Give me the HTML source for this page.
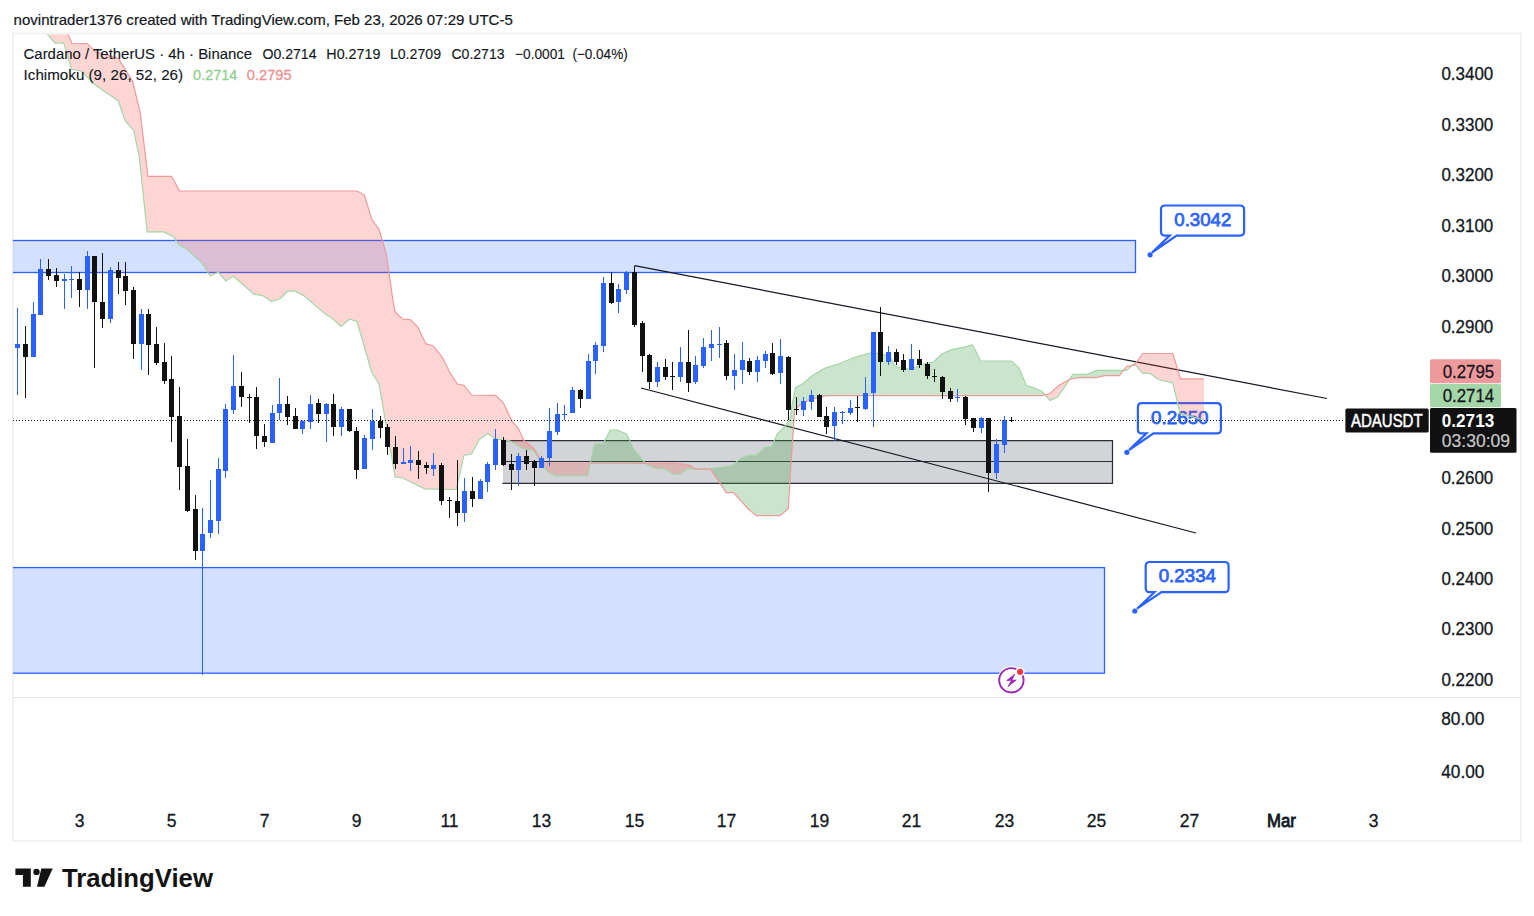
<!DOCTYPE html><html><head><meta charset="utf-8"><title>ADAUSDT chart</title>
<style>html,body{margin:0;padding:0;background:#fff;width:1534px;height:916px;overflow:hidden}svg{position:absolute;left:0;top:0;display:block}text{font-family:"Liberation Sans",sans-serif}</style></head><body>
<svg width="1534" height="916" viewBox="0 0 1534 916">
<defs><clipPath id="main"><rect x="13" y="34.5" width="1417" height="662.5"/></clipPath><clipPath id="cgreen"><polygon points="-138,20 62,20 68.2,34.4 71.9,43.5 87.2,43.5 95.5,51.8 118.4,58.4 132.6,81.3 140.3,113 147.9,176.3 171.5,176.3 179.6,191 357,191 364.3,194.8 371.7,219 379,229.3 386.4,254.3 392.9,300 395.1,312 402.8,319.2 410.4,319.7 418,327.3 425.7,343.7 433.3,345.9 442,356.8 449.7,372 457.3,384 463.9,385.2 471.5,395 495.5,395.4 503.2,402.6 512,421.2 518.5,428.8 524,440.8 533.8,448.5 540.3,459.4 543.7,463 675,463.4 687.8,464.5 695.1,469.1 710.7,469.1 726.2,492.6 733.5,492.6 748.1,508.7 756.3,515.6 780,515.6 788.2,508.7 790,479.5 794.6,410.2 799.2,405.6 810.1,399.2 820,397.4 826,395.6 1041.7,395.6 1050.2,393.5 1058.7,385.4 1069.1,379.5 1079.5,377.6 1096.5,377.6 1104.3,375.6 1119.3,375.6 1126.5,366.5 1134.3,365.2 1142.8,353.5 1172.8,353.5 1180.6,378.9 1204,378.9 1404,378.9 1404,-500 -138,-500"/></clipPath><clipPath id="cred"><polygon points="-138,20 62,20 68.2,34.4 71.9,43.5 87.2,43.5 95.5,51.8 118.4,58.4 132.6,81.3 140.3,113 147.9,176.3 171.5,176.3 179.6,191 357,191 364.3,194.8 371.7,219 379,229.3 386.4,254.3 392.9,300 395.1,312 402.8,319.2 410.4,319.7 418,327.3 425.7,343.7 433.3,345.9 442,356.8 449.7,372 457.3,384 463.9,385.2 471.5,395 495.5,395.4 503.2,402.6 512,421.2 518.5,428.8 524,440.8 533.8,448.5 540.3,459.4 543.7,463 675,463.4 687.8,464.5 695.1,469.1 710.7,469.1 726.2,492.6 733.5,492.6 748.1,508.7 756.3,515.6 780,515.6 788.2,508.7 790,479.5 794.6,410.2 799.2,405.6 810.1,399.2 820,397.4 826,395.6 1041.7,395.6 1050.2,393.5 1058.7,385.4 1069.1,379.5 1079.5,377.6 1096.5,377.6 1104.3,375.6 1119.3,375.6 1126.5,366.5 1134.3,365.2 1142.8,353.5 1172.8,353.5 1180.6,378.9 1204,378.9 1404,378.9 1404,1500 -138,1500"/></clipPath></defs>
<rect x="0" y="0" width="1534" height="916" fill="#ffffff"/>
<text x="13.6" y="25" font-size="15" fill="#131722" stroke="#131722" stroke-width="0.2" textLength="499.2" lengthAdjust="spacingAndGlyphs">novintrader1376 created with TradingView.com, Feb 23, 2026 07:29 UTC-5</text>
<rect x="12.75" y="33.5" width="1508" height="807.5" fill="none" stroke="#efefef" stroke-width="1.6"/>
<line x1="13" y1="697.5" x2="1520" y2="697.5" stroke="#e0e3eb" stroke-width="1"/>
<g clip-path="url(#main)">
<rect x="8" y="240.5" width="1127.5" height="32" fill="#2962ff" fill-opacity="0.2" stroke="#2962ff" stroke-width="1.3"/>
<rect x="8" y="567.6" width="1096.5" height="105.6" fill="#2962ff" fill-opacity="0.2" stroke="#2962ff" stroke-width="1.3"/>
<rect x="503" y="440.6" width="609.5" height="42.8" fill="#787b86" fill-opacity="0.33"/>
<path d="M502.5,440.6 H1112.5 V483.4 H502.5 M502.5,461.5 H1112.5" fill="none" stroke="#2a2e39" stroke-width="1.2"/>
<line x1="634.5" y1="265.6" x2="1327" y2="398.5" stroke="#131722" stroke-width="1.2"/>
<line x1="641" y1="388" x2="1196" y2="533" stroke="#131722" stroke-width="1.2"/>
<path d="M1165,205.5 L1240.1,205.5 Q1244.1,205.5 1244.1,209.5 L1244.1,231.6 Q1244.1,235.6 1240.1,235.6 L1176.6,235.6 L1152,252.5 L1169.7,235.6 L1165,235.6 Q1161,235.6 1161,231.6 L1161,209.5 Q1161,205.5 1165,205.5 Z" fill="#ffffff" stroke="#2962ff" stroke-width="2.2" stroke-linejoin="miter"/>
<circle cx="1150.1" cy="254.8" r="2.6" fill="#2962ff"/>
<text x="1174.3" y="226" font-size="18.6" fill="#2962ff" stroke="#2962ff" stroke-width="0.75" textLength="57" lengthAdjust="spacingAndGlyphs">0.3042</text>
<path d="M1141.9,403.2 L1216.9,403.2 Q1220.9,403.2 1220.9,407.2 L1220.9,429.4 Q1220.9,433.4 1216.9,433.4 L1153.5,433.4 L1129,450 L1146.5,433.4 L1141.9,433.4 Q1137.9,433.4 1137.9,429.4 L1137.9,407.2 Q1137.9,403.2 1141.9,403.2 Z" fill="#ffffff" stroke="#2962ff" stroke-width="2.2" stroke-linejoin="miter"/>
<circle cx="1126.9" cy="452.3" r="2.6" fill="#2962ff"/>
<text x="1151" y="424" font-size="18.6" fill="#2962ff" stroke="#2962ff" stroke-width="0.75" textLength="57.6" lengthAdjust="spacingAndGlyphs">0.2650</text>
<path d="M1149.7,562 L1224.6,562 Q1228.6,562 1228.6,566 L1228.6,588.2 Q1228.6,592.2 1224.6,592.2 L1161.5,592.2 L1137,608.7 L1154.5,592.2 L1149.7,592.2 Q1145.7,592.2 1145.7,588.2 L1145.7,566 Q1145.7,562 1149.7,562 Z" fill="#ffffff" stroke="#2962ff" stroke-width="2.2" stroke-linejoin="miter"/>
<circle cx="1134.8" cy="611" r="2.6" fill="#2962ff"/>
<text x="1158.7" y="581.8" font-size="18.6" fill="#2962ff" stroke="#2962ff" stroke-width="0.75" textLength="57.3" lengthAdjust="spacingAndGlyphs">0.2334</text>
<polygon points="40,20 47.5,34.4 55.1,43.1 63.8,43.1 71.5,69.3 82.4,71.5 93.3,83.5 118.4,101 125,120.6 133.7,130.4 139.2,156.6 147.2,231.9 163.9,231.9 173.4,236.8 179.1,245 186.5,249 202,263 210.2,276 218.4,272 225.8,281 233.1,276 250,290.8 253.8,294.1 262.6,295.6 271.5,301.5 280.3,298.5 287.7,291.2 295,291.2 303.9,295.6 315.7,305.9 324.5,313.3 333.4,319.2 340.8,326.5 349.6,319.2 357,321.5 371.7,372.2 379,384 395.1,476.9 402.8,478 424.6,488.9 456.2,489.5 463.9,455.5 471.5,454 479.2,439.7 487.9,433.2 494.5,438.6 509.7,440.8 522.8,448.5 533.8,450.7 544.7,468.1 549.1,473.1 556.4,475.9 587.8,475.9 590.2,463 594.8,443.9 603,443.9 610.3,430.2 617.6,430.2 626.7,434.2 634,449.4 645,463 648.6,465.8 656.8,468.6 664.1,468.6 673.2,474 680.5,474.4 687.8,468.6 695.1,469.1 711.6,468.6 731.6,465.8 740.8,458.5 749,455.2 756.3,455.2 765.4,447.2 771.8,446.3 777.3,433.9 784.6,426.6 790,419.3 791.9,406.5 795.5,387.3 802.8,383.8 812,375.7 825.6,367.8 836.6,364.7 856.7,356.5 871.3,352.9 882.2,353.8 890.4,357.4 895,366 901.4,368.4 911.4,369.3 924.2,363.8 933.3,362.3 941.5,354.3 951.6,349.6 963.4,347.4 972.5,344.6 980.8,361 1011.8,361 1019.1,368.4 1026.4,385.7 1032.8,387.2 1041.7,391.3 1050.2,400.4 1058,396.5 1073,374.3 1087.4,374.3 1096.5,370.4 1126.5,370.4 1134.3,363.9 1135.6,365.2 1142.8,373.4 1150,373.4 1158.4,379.5 1172.8,382.8 1180,413.4 1204,420 1204,378.9 1180.6,378.9 1172.8,353.5 1142.8,353.5 1134.3,365.2 1126.5,366.5 1119.3,375.6 1104.3,375.6 1096.5,377.6 1079.5,377.6 1069.1,379.5 1058.7,385.4 1050.2,393.5 1041.7,395.6 826,395.6 820,397.4 810.1,399.2 799.2,405.6 794.6,410.2 790,479.5 788.2,508.7 780,515.6 756.3,515.6 748.1,508.7 733.5,492.6 726.2,492.6 710.7,469.1 695.1,469.1 687.8,464.5 675,463.4 543.7,463 540.3,459.4 533.8,448.5 524,440.8 518.5,428.8 512,421.2 503.2,402.6 495.5,395.4 471.5,395 463.9,385.2 457.3,384 449.7,372 442,356.8 433.3,345.9 425.7,343.7 418,327.3 410.4,319.7 402.8,319.2 395.1,312 392.9,300 386.4,254.3 379,229.3 371.7,219 364.3,194.8 357,191 179.6,191 171.5,176.3 147.9,176.3 140.3,113 132.6,81.3 118.4,58.4 95.5,51.8 87.2,43.5 71.9,43.5 68.2,34.4 62,20" fill="#43a047" fill-opacity="0.28" clip-path="url(#cgreen)"/>
<polygon points="40,20 47.5,34.4 55.1,43.1 63.8,43.1 71.5,69.3 82.4,71.5 93.3,83.5 118.4,101 125,120.6 133.7,130.4 139.2,156.6 147.2,231.9 163.9,231.9 173.4,236.8 179.1,245 186.5,249 202,263 210.2,276 218.4,272 225.8,281 233.1,276 250,290.8 253.8,294.1 262.6,295.6 271.5,301.5 280.3,298.5 287.7,291.2 295,291.2 303.9,295.6 315.7,305.9 324.5,313.3 333.4,319.2 340.8,326.5 349.6,319.2 357,321.5 371.7,372.2 379,384 395.1,476.9 402.8,478 424.6,488.9 456.2,489.5 463.9,455.5 471.5,454 479.2,439.7 487.9,433.2 494.5,438.6 509.7,440.8 522.8,448.5 533.8,450.7 544.7,468.1 549.1,473.1 556.4,475.9 587.8,475.9 590.2,463 594.8,443.9 603,443.9 610.3,430.2 617.6,430.2 626.7,434.2 634,449.4 645,463 648.6,465.8 656.8,468.6 664.1,468.6 673.2,474 680.5,474.4 687.8,468.6 695.1,469.1 711.6,468.6 731.6,465.8 740.8,458.5 749,455.2 756.3,455.2 765.4,447.2 771.8,446.3 777.3,433.9 784.6,426.6 790,419.3 791.9,406.5 795.5,387.3 802.8,383.8 812,375.7 825.6,367.8 836.6,364.7 856.7,356.5 871.3,352.9 882.2,353.8 890.4,357.4 895,366 901.4,368.4 911.4,369.3 924.2,363.8 933.3,362.3 941.5,354.3 951.6,349.6 963.4,347.4 972.5,344.6 980.8,361 1011.8,361 1019.1,368.4 1026.4,385.7 1032.8,387.2 1041.7,391.3 1050.2,400.4 1058,396.5 1073,374.3 1087.4,374.3 1096.5,370.4 1126.5,370.4 1134.3,363.9 1135.6,365.2 1142.8,373.4 1150,373.4 1158.4,379.5 1172.8,382.8 1180,413.4 1204,420 1204,378.9 1180.6,378.9 1172.8,353.5 1142.8,353.5 1134.3,365.2 1126.5,366.5 1119.3,375.6 1104.3,375.6 1096.5,377.6 1079.5,377.6 1069.1,379.5 1058.7,385.4 1050.2,393.5 1041.7,395.6 826,395.6 820,397.4 810.1,399.2 799.2,405.6 794.6,410.2 790,479.5 788.2,508.7 780,515.6 756.3,515.6 748.1,508.7 733.5,492.6 726.2,492.6 710.7,469.1 695.1,469.1 687.8,464.5 675,463.4 543.7,463 540.3,459.4 533.8,448.5 524,440.8 518.5,428.8 512,421.2 503.2,402.6 495.5,395.4 471.5,395 463.9,385.2 457.3,384 449.7,372 442,356.8 433.3,345.9 425.7,343.7 418,327.3 410.4,319.7 402.8,319.2 395.1,312 392.9,300 386.4,254.3 379,229.3 371.7,219 364.3,194.8 357,191 179.6,191 171.5,176.3 147.9,176.3 140.3,113 132.6,81.3 118.4,58.4 95.5,51.8 87.2,43.5 71.9,43.5 68.2,34.4 62,20" fill="#f44336" fill-opacity="0.22" clip-path="url(#cred)"/>
<polyline points="40,20 47.5,34.4 55.1,43.1 63.8,43.1 71.5,69.3 82.4,71.5 93.3,83.5 118.4,101 125,120.6 133.7,130.4 139.2,156.6 147.2,231.9 163.9,231.9 173.4,236.8 179.1,245 186.5,249 202,263 210.2,276 218.4,272 225.8,281 233.1,276 250,290.8 253.8,294.1 262.6,295.6 271.5,301.5 280.3,298.5 287.7,291.2 295,291.2 303.9,295.6 315.7,305.9 324.5,313.3 333.4,319.2 340.8,326.5 349.6,319.2 357,321.5 371.7,372.2 379,384 395.1,476.9 402.8,478 424.6,488.9 456.2,489.5 463.9,455.5 471.5,454 479.2,439.7 487.9,433.2 494.5,438.6 509.7,440.8 522.8,448.5 533.8,450.7 544.7,468.1 549.1,473.1 556.4,475.9 587.8,475.9 590.2,463 594.8,443.9 603,443.9 610.3,430.2 617.6,430.2 626.7,434.2 634,449.4 645,463 648.6,465.8 656.8,468.6 664.1,468.6 673.2,474 680.5,474.4 687.8,468.6 695.1,469.1 711.6,468.6 731.6,465.8 740.8,458.5 749,455.2 756.3,455.2 765.4,447.2 771.8,446.3 777.3,433.9 784.6,426.6 790,419.3 791.9,406.5 795.5,387.3 802.8,383.8 812,375.7 825.6,367.8 836.6,364.7 856.7,356.5 871.3,352.9 882.2,353.8 890.4,357.4 895,366 901.4,368.4 911.4,369.3 924.2,363.8 933.3,362.3 941.5,354.3 951.6,349.6 963.4,347.4 972.5,344.6 980.8,361 1011.8,361 1019.1,368.4 1026.4,385.7 1032.8,387.2 1041.7,391.3 1050.2,400.4 1058,396.5 1073,374.3 1087.4,374.3 1096.5,370.4 1126.5,370.4 1134.3,363.9 1135.6,365.2 1142.8,373.4 1150,373.4 1158.4,379.5 1172.8,382.8 1180,413.4 1204,420" fill="none" stroke="#a5d6a7" stroke-width="1.2"/>
<polyline points="62,20 68.2,34.4 71.9,43.5 87.2,43.5 95.5,51.8 118.4,58.4 132.6,81.3 140.3,113 147.9,176.3 171.5,176.3 179.6,191 357,191 364.3,194.8 371.7,219 379,229.3 386.4,254.3 392.9,300 395.1,312 402.8,319.2 410.4,319.7 418,327.3 425.7,343.7 433.3,345.9 442,356.8 449.7,372 457.3,384 463.9,385.2 471.5,395 495.5,395.4 503.2,402.6 512,421.2 518.5,428.8 524,440.8 533.8,448.5 540.3,459.4 543.7,463 675,463.4 687.8,464.5 695.1,469.1 710.7,469.1 726.2,492.6 733.5,492.6 748.1,508.7 756.3,515.6 780,515.6 788.2,508.7 790,479.5 794.6,410.2 799.2,405.6 810.1,399.2 820,397.4 826,395.6 1041.7,395.6 1050.2,393.5 1058.7,385.4 1069.1,379.5 1079.5,377.6 1096.5,377.6 1104.3,375.6 1119.3,375.6 1126.5,366.5 1134.3,365.2 1142.8,353.5 1172.8,353.5 1180.6,378.9 1204,378.9" fill="none" stroke="#ef9a9a" stroke-width="1.2"/>
<rect x="17" y="308" width="1" height="87" fill="#2962ff"/>
<rect x="15" y="344" width="5" height="4" fill="#2962ff"/>
<rect x="25" y="326" width="1" height="72" fill="#111111"/>
<rect x="23" y="344" width="5" height="13" fill="#111111"/>
<rect x="33" y="302" width="1" height="55" fill="#2962ff"/>
<rect x="31" y="314" width="5" height="43" fill="#2962ff"/>
<rect x="40" y="259" width="1" height="56" fill="#2962ff"/>
<rect x="38" y="269" width="5" height="46" fill="#2962ff"/>
<rect x="48" y="259" width="1" height="21" fill="#111111"/>
<rect x="46" y="269" width="5" height="7" fill="#111111"/>
<rect x="56" y="268" width="1" height="19" fill="#111111"/>
<rect x="54" y="275" width="5" height="6" fill="#111111"/>
<rect x="64" y="274" width="1" height="35" fill="#2962ff"/>
<rect x="62" y="279" width="5" height="2" fill="#2962ff"/>
<rect x="71" y="266" width="1" height="32" fill="#2962ff"/>
<rect x="69" y="279" width="5" height="1" fill="#2962ff"/>
<rect x="79" y="272" width="1" height="35" fill="#111111"/>
<rect x="77" y="279" width="5" height="11" fill="#111111"/>
<rect x="87" y="251" width="1" height="58" fill="#2962ff"/>
<rect x="85" y="256" width="5" height="34" fill="#2962ff"/>
<rect x="94" y="256" width="1" height="112" fill="#111111"/>
<rect x="92" y="256" width="5" height="46" fill="#111111"/>
<rect x="102" y="253" width="1" height="75" fill="#111111"/>
<rect x="100" y="302" width="5" height="17" fill="#111111"/>
<rect x="110" y="267" width="1" height="56" fill="#2962ff"/>
<rect x="108" y="270" width="5" height="49" fill="#2962ff"/>
<rect x="118" y="262" width="1" height="32" fill="#111111"/>
<rect x="116" y="270" width="5" height="8" fill="#111111"/>
<rect x="125" y="262" width="1" height="43" fill="#111111"/>
<rect x="123" y="276" width="5" height="15" fill="#111111"/>
<rect x="133" y="287" width="1" height="72" fill="#111111"/>
<rect x="131" y="290" width="5" height="54" fill="#111111"/>
<rect x="141" y="309" width="1" height="61" fill="#2962ff"/>
<rect x="139" y="314" width="5" height="30" fill="#2962ff"/>
<rect x="148" y="309" width="1" height="66" fill="#111111"/>
<rect x="146" y="314" width="5" height="31" fill="#111111"/>
<rect x="156" y="327" width="1" height="38" fill="#111111"/>
<rect x="154" y="344" width="5" height="19" fill="#111111"/>
<rect x="164" y="343" width="1" height="41" fill="#111111"/>
<rect x="162" y="362" width="5" height="19" fill="#111111"/>
<rect x="171" y="356" width="1" height="86" fill="#111111"/>
<rect x="169" y="379" width="5" height="38" fill="#111111"/>
<rect x="179" y="387" width="1" height="103" fill="#111111"/>
<rect x="177" y="416" width="5" height="51" fill="#111111"/>
<rect x="187" y="439" width="1" height="73" fill="#111111"/>
<rect x="185" y="466" width="5" height="45" fill="#111111"/>
<rect x="195" y="495" width="1" height="65" fill="#111111"/>
<rect x="193" y="509" width="5" height="42" fill="#111111"/>
<rect x="202" y="508" width="1" height="167" fill="#2962ff"/>
<rect x="200" y="534" width="5" height="17" fill="#2962ff"/>
<rect x="210" y="480" width="1" height="58" fill="#2962ff"/>
<rect x="208" y="520" width="5" height="13" fill="#2962ff"/>
<rect x="218" y="458" width="1" height="76" fill="#2962ff"/>
<rect x="216" y="469" width="5" height="52" fill="#2962ff"/>
<rect x="225" y="404" width="1" height="74" fill="#2962ff"/>
<rect x="223" y="409" width="5" height="62" fill="#2962ff"/>
<rect x="233" y="355" width="1" height="59" fill="#2962ff"/>
<rect x="231" y="386" width="5" height="24" fill="#2962ff"/>
<rect x="241" y="372" width="1" height="35" fill="#111111"/>
<rect x="239" y="386" width="5" height="11" fill="#111111"/>
<rect x="249" y="394" width="1" height="29" fill="#111111"/>
<rect x="247" y="397" width="5" height="1" fill="#111111"/>
<rect x="256" y="387" width="1" height="62" fill="#111111"/>
<rect x="254" y="397" width="5" height="39" fill="#111111"/>
<rect x="264" y="424" width="1" height="23" fill="#111111"/>
<rect x="262" y="436" width="5" height="6" fill="#111111"/>
<rect x="272" y="405" width="1" height="38" fill="#2962ff"/>
<rect x="270" y="413" width="5" height="30" fill="#2962ff"/>
<rect x="279" y="378" width="1" height="42" fill="#2962ff"/>
<rect x="277" y="404" width="5" height="9" fill="#2962ff"/>
<rect x="287" y="396" width="1" height="29" fill="#111111"/>
<rect x="285" y="404" width="5" height="13" fill="#111111"/>
<rect x="295" y="408" width="1" height="21" fill="#111111"/>
<rect x="293" y="416" width="5" height="13" fill="#111111"/>
<rect x="302" y="420" width="1" height="14" fill="#2962ff"/>
<rect x="300" y="421" width="5" height="8" fill="#2962ff"/>
<rect x="310" y="395" width="1" height="34" fill="#2962ff"/>
<rect x="308" y="404" width="5" height="18" fill="#2962ff"/>
<rect x="318" y="399" width="1" height="24" fill="#111111"/>
<rect x="316" y="403" width="5" height="11" fill="#111111"/>
<rect x="326" y="403" width="1" height="39" fill="#2962ff"/>
<rect x="324" y="404" width="5" height="10" fill="#2962ff"/>
<rect x="333" y="394" width="1" height="42" fill="#111111"/>
<rect x="331" y="404" width="5" height="23" fill="#111111"/>
<rect x="341" y="407" width="1" height="29" fill="#2962ff"/>
<rect x="339" y="409" width="5" height="18" fill="#2962ff"/>
<rect x="349" y="409" width="1" height="23" fill="#111111"/>
<rect x="347" y="409" width="5" height="22" fill="#111111"/>
<rect x="356" y="427" width="1" height="52" fill="#111111"/>
<rect x="354" y="431" width="5" height="39" fill="#111111"/>
<rect x="364" y="435" width="1" height="34" fill="#2962ff"/>
<rect x="362" y="438" width="5" height="31" fill="#2962ff"/>
<rect x="372" y="409" width="1" height="41" fill="#2962ff"/>
<rect x="370" y="421" width="5" height="18" fill="#2962ff"/>
<rect x="380" y="416" width="1" height="22" fill="#111111"/>
<rect x="378" y="421" width="5" height="7" fill="#111111"/>
<rect x="387" y="424" width="1" height="31" fill="#111111"/>
<rect x="385" y="427" width="5" height="20" fill="#111111"/>
<rect x="395" y="436" width="1" height="33" fill="#111111"/>
<rect x="393" y="447" width="5" height="17" fill="#111111"/>
<rect x="403" y="448" width="1" height="16" fill="#2962ff"/>
<rect x="401" y="462" width="5" height="2" fill="#2962ff"/>
<rect x="410" y="446" width="1" height="25" fill="#2962ff"/>
<rect x="408" y="460" width="5" height="3" fill="#2962ff"/>
<rect x="418" y="451" width="1" height="28" fill="#111111"/>
<rect x="416" y="460" width="5" height="5" fill="#111111"/>
<rect x="426" y="462" width="1" height="12" fill="#111111"/>
<rect x="424" y="465" width="5" height="3" fill="#111111"/>
<rect x="433" y="453" width="1" height="23" fill="#2962ff"/>
<rect x="431" y="465" width="5" height="4" fill="#2962ff"/>
<rect x="441" y="463" width="1" height="42" fill="#111111"/>
<rect x="439" y="465" width="5" height="36" fill="#111111"/>
<rect x="449" y="497" width="1" height="21" fill="#111111"/>
<rect x="447" y="500" width="5" height="1" fill="#111111"/>
<rect x="457" y="460" width="1" height="66" fill="#111111"/>
<rect x="455" y="501" width="5" height="12" fill="#111111"/>
<rect x="464" y="478" width="1" height="44" fill="#2962ff"/>
<rect x="462" y="491" width="5" height="22" fill="#2962ff"/>
<rect x="472" y="477" width="1" height="30" fill="#111111"/>
<rect x="470" y="491" width="5" height="8" fill="#111111"/>
<rect x="480" y="479" width="1" height="20" fill="#2962ff"/>
<rect x="478" y="481" width="5" height="18" fill="#2962ff"/>
<rect x="487" y="462" width="1" height="30" fill="#2962ff"/>
<rect x="485" y="464" width="5" height="18" fill="#2962ff"/>
<rect x="495" y="429" width="1" height="41" fill="#2962ff"/>
<rect x="493" y="439" width="5" height="26" fill="#2962ff"/>
<rect x="503" y="437" width="1" height="29" fill="#111111"/>
<rect x="501" y="440" width="5" height="25" fill="#111111"/>
<rect x="511" y="454" width="1" height="36" fill="#111111"/>
<rect x="509" y="464" width="5" height="6" fill="#111111"/>
<rect x="518" y="453" width="1" height="33" fill="#2962ff"/>
<rect x="516" y="456" width="5" height="14" fill="#2962ff"/>
<rect x="526" y="450" width="1" height="20" fill="#111111"/>
<rect x="524" y="456" width="5" height="8" fill="#111111"/>
<rect x="534" y="460" width="1" height="26" fill="#111111"/>
<rect x="532" y="461" width="5" height="7" fill="#111111"/>
<rect x="541" y="456" width="1" height="12" fill="#2962ff"/>
<rect x="539" y="458" width="5" height="10" fill="#2962ff"/>
<rect x="549" y="408" width="1" height="58" fill="#2962ff"/>
<rect x="547" y="431" width="5" height="27" fill="#2962ff"/>
<rect x="557" y="403" width="1" height="32" fill="#2962ff"/>
<rect x="555" y="414" width="5" height="18" fill="#2962ff"/>
<rect x="564" y="405" width="1" height="15" fill="#2962ff"/>
<rect x="562" y="414" width="5" height="1" fill="#2962ff"/>
<rect x="572" y="387" width="1" height="26" fill="#2962ff"/>
<rect x="570" y="390" width="5" height="23" fill="#2962ff"/>
<rect x="580" y="389" width="1" height="19" fill="#111111"/>
<rect x="578" y="390" width="5" height="9" fill="#111111"/>
<rect x="588" y="354" width="1" height="45" fill="#2962ff"/>
<rect x="586" y="361" width="5" height="38" fill="#2962ff"/>
<rect x="595" y="342" width="1" height="32" fill="#2962ff"/>
<rect x="593" y="345" width="5" height="16" fill="#2962ff"/>
<rect x="603" y="277" width="1" height="75" fill="#2962ff"/>
<rect x="601" y="283" width="5" height="63" fill="#2962ff"/>
<rect x="611" y="272" width="1" height="32" fill="#111111"/>
<rect x="609" y="283" width="5" height="20" fill="#111111"/>
<rect x="618" y="284" width="1" height="29" fill="#2962ff"/>
<rect x="616" y="289" width="5" height="13" fill="#2962ff"/>
<rect x="626" y="271" width="1" height="23" fill="#2962ff"/>
<rect x="624" y="272" width="5" height="18" fill="#2962ff"/>
<rect x="634" y="266" width="1" height="61" fill="#111111"/>
<rect x="632" y="272" width="5" height="53" fill="#111111"/>
<rect x="642" y="321" width="1" height="51" fill="#111111"/>
<rect x="640" y="323" width="5" height="33" fill="#111111"/>
<rect x="649" y="354" width="1" height="35" fill="#111111"/>
<rect x="647" y="355" width="5" height="27" fill="#111111"/>
<rect x="657" y="362" width="1" height="25" fill="#2962ff"/>
<rect x="655" y="367" width="5" height="15" fill="#2962ff"/>
<rect x="665" y="359" width="1" height="21" fill="#111111"/>
<rect x="663" y="367" width="5" height="10" fill="#111111"/>
<rect x="672" y="362" width="1" height="28" fill="#111111"/>
<rect x="670" y="376" width="5" height="1" fill="#111111"/>
<rect x="680" y="347" width="1" height="35" fill="#2962ff"/>
<rect x="678" y="362" width="5" height="15" fill="#2962ff"/>
<rect x="688" y="330" width="1" height="62" fill="#111111"/>
<rect x="686" y="362" width="5" height="21" fill="#111111"/>
<rect x="695" y="356" width="1" height="28" fill="#2962ff"/>
<rect x="693" y="365" width="5" height="17" fill="#2962ff"/>
<rect x="703" y="338" width="1" height="30" fill="#2962ff"/>
<rect x="701" y="347" width="5" height="19" fill="#2962ff"/>
<rect x="711" y="330" width="1" height="31" fill="#2962ff"/>
<rect x="709" y="344" width="5" height="4" fill="#2962ff"/>
<rect x="719" y="327" width="1" height="31" fill="#2962ff"/>
<rect x="717" y="344" width="5" height="1" fill="#2962ff"/>
<rect x="726" y="340" width="1" height="40" fill="#111111"/>
<rect x="724" y="343" width="5" height="33" fill="#111111"/>
<rect x="734" y="354" width="1" height="36" fill="#2962ff"/>
<rect x="732" y="370" width="5" height="6" fill="#2962ff"/>
<rect x="742" y="342" width="1" height="42" fill="#2962ff"/>
<rect x="740" y="360" width="5" height="10" fill="#2962ff"/>
<rect x="749" y="358" width="1" height="17" fill="#111111"/>
<rect x="747" y="361" width="5" height="11" fill="#111111"/>
<rect x="757" y="356" width="1" height="26" fill="#2962ff"/>
<rect x="755" y="360" width="5" height="12" fill="#2962ff"/>
<rect x="765" y="351" width="1" height="17" fill="#2962ff"/>
<rect x="763" y="354" width="5" height="7" fill="#2962ff"/>
<rect x="772" y="343" width="1" height="32" fill="#111111"/>
<rect x="770" y="353" width="5" height="21" fill="#111111"/>
<rect x="780" y="339" width="1" height="45" fill="#2962ff"/>
<rect x="778" y="356" width="5" height="17" fill="#2962ff"/>
<rect x="788" y="356" width="1" height="64" fill="#111111"/>
<rect x="786" y="357" width="5" height="53" fill="#111111"/>
<rect x="796" y="397" width="1" height="18" fill="#111111"/>
<rect x="794" y="409" width="5" height="1" fill="#111111"/>
<rect x="803" y="397" width="1" height="19" fill="#2962ff"/>
<rect x="801" y="401" width="5" height="9" fill="#2962ff"/>
<rect x="811" y="390" width="1" height="20" fill="#2962ff"/>
<rect x="809" y="395" width="5" height="7" fill="#2962ff"/>
<rect x="819" y="394" width="1" height="23" fill="#111111"/>
<rect x="817" y="395" width="5" height="22" fill="#111111"/>
<rect x="826" y="407" width="1" height="27" fill="#111111"/>
<rect x="824" y="416" width="5" height="11" fill="#111111"/>
<rect x="834" y="407" width="1" height="34" fill="#2962ff"/>
<rect x="832" y="412" width="5" height="14" fill="#2962ff"/>
<rect x="842" y="411" width="1" height="13" fill="#2962ff"/>
<rect x="840" y="412" width="5" height="1" fill="#2962ff"/>
<rect x="850" y="400" width="1" height="15" fill="#2962ff"/>
<rect x="848" y="408" width="5" height="5" fill="#2962ff"/>
<rect x="857" y="396" width="1" height="26" fill="#111111"/>
<rect x="855" y="407" width="5" height="1" fill="#111111"/>
<rect x="865" y="377" width="1" height="33" fill="#2962ff"/>
<rect x="863" y="393" width="5" height="16" fill="#2962ff"/>
<rect x="873" y="332" width="1" height="95" fill="#2962ff"/>
<rect x="871" y="332" width="5" height="61" fill="#2962ff"/>
<rect x="880" y="307" width="1" height="69" fill="#111111"/>
<rect x="878" y="332" width="5" height="30" fill="#111111"/>
<rect x="888" y="346" width="1" height="19" fill="#2962ff"/>
<rect x="886" y="352" width="5" height="10" fill="#2962ff"/>
<rect x="896" y="349" width="1" height="16" fill="#111111"/>
<rect x="894" y="352" width="5" height="10" fill="#111111"/>
<rect x="903" y="354" width="1" height="18" fill="#111111"/>
<rect x="901" y="360" width="5" height="10" fill="#111111"/>
<rect x="911" y="344" width="1" height="26" fill="#2962ff"/>
<rect x="909" y="359" width="5" height="11" fill="#2962ff"/>
<rect x="919" y="350" width="1" height="18" fill="#111111"/>
<rect x="917" y="359" width="5" height="6" fill="#111111"/>
<rect x="927" y="362" width="1" height="17" fill="#111111"/>
<rect x="925" y="364" width="5" height="12" fill="#111111"/>
<rect x="934" y="369" width="1" height="13" fill="#111111"/>
<rect x="932" y="376" width="5" height="1" fill="#111111"/>
<rect x="942" y="376" width="1" height="23" fill="#111111"/>
<rect x="940" y="377" width="5" height="15" fill="#111111"/>
<rect x="950" y="388" width="1" height="14" fill="#111111"/>
<rect x="948" y="391" width="5" height="8" fill="#111111"/>
<rect x="957" y="389" width="1" height="13" fill="#2962ff"/>
<rect x="955" y="397" width="5" height="1" fill="#2962ff"/>
<rect x="965" y="396" width="1" height="29" fill="#111111"/>
<rect x="963" y="397" width="5" height="22" fill="#111111"/>
<rect x="973" y="418" width="1" height="14" fill="#111111"/>
<rect x="971" y="418" width="5" height="10" fill="#111111"/>
<rect x="981" y="417" width="1" height="16" fill="#2962ff"/>
<rect x="979" y="418" width="5" height="10" fill="#2962ff"/>
<rect x="988" y="418" width="1" height="74" fill="#111111"/>
<rect x="986" y="418" width="5" height="55" fill="#111111"/>
<rect x="996" y="439" width="1" height="40" fill="#2962ff"/>
<rect x="994" y="444" width="5" height="29" fill="#2962ff"/>
<rect x="1004" y="416" width="1" height="37" fill="#2962ff"/>
<rect x="1002" y="420" width="5" height="25" fill="#2962ff"/>
<rect x="1011" y="417" width="1" height="5" fill="#111111"/>
<rect x="1009" y="420" width="5" height="1" fill="#111111"/>
</g>
<line x1="13" y1="420.5" x2="1345" y2="420.5" stroke="#131722" stroke-width="1" stroke-dasharray="1,2"/>
<text x="1441.4" y="80.4" font-size="17.5" fill="#131722" stroke="#131722" stroke-width="0.3" textLength="51.9" lengthAdjust="spacingAndGlyphs">0.3400</text>
<text x="1441.4" y="130.86" font-size="17.5" fill="#131722" stroke="#131722" stroke-width="0.3" textLength="51.9" lengthAdjust="spacingAndGlyphs">0.3300</text>
<text x="1441.4" y="181.32" font-size="17.5" fill="#131722" stroke="#131722" stroke-width="0.3" textLength="51.9" lengthAdjust="spacingAndGlyphs">0.3200</text>
<text x="1441.4" y="231.78" font-size="17.5" fill="#131722" stroke="#131722" stroke-width="0.3" textLength="51.9" lengthAdjust="spacingAndGlyphs">0.3100</text>
<text x="1441.4" y="282.23" font-size="17.5" fill="#131722" stroke="#131722" stroke-width="0.3" textLength="51.9" lengthAdjust="spacingAndGlyphs">0.3000</text>
<text x="1441.4" y="332.69" font-size="17.5" fill="#131722" stroke="#131722" stroke-width="0.3" textLength="51.9" lengthAdjust="spacingAndGlyphs">0.2900</text>
<text x="1441.4" y="484.07" font-size="17.5" fill="#131722" stroke="#131722" stroke-width="0.3" textLength="51.9" lengthAdjust="spacingAndGlyphs">0.2600</text>
<text x="1441.4" y="534.53" font-size="17.5" fill="#131722" stroke="#131722" stroke-width="0.3" textLength="51.9" lengthAdjust="spacingAndGlyphs">0.2500</text>
<text x="1441.4" y="584.98" font-size="17.5" fill="#131722" stroke="#131722" stroke-width="0.3" textLength="51.9" lengthAdjust="spacingAndGlyphs">0.2400</text>
<text x="1441.4" y="635.44" font-size="17.5" fill="#131722" stroke="#131722" stroke-width="0.3" textLength="51.9" lengthAdjust="spacingAndGlyphs">0.2300</text>
<text x="1441.4" y="685.9" font-size="17.5" fill="#131722" stroke="#131722" stroke-width="0.3" textLength="51.9" lengthAdjust="spacingAndGlyphs">0.2200</text>
<text x="1441.2" y="724.6" font-size="17.5" fill="#131722" stroke="#131722" stroke-width="0.3" textLength="43.2" lengthAdjust="spacingAndGlyphs">80.00</text>
<text x="1441.2" y="777.7" font-size="17.5" fill="#131722" stroke="#131722" stroke-width="0.3" textLength="43.2" lengthAdjust="spacingAndGlyphs">40.00</text>
<rect x="1430" y="359.2" width="71" height="24.1" rx="1.5" fill="#ef9a9a"/>
<text x="1442.7" y="377.6" font-size="17.5" fill="#131722" stroke="#131722" stroke-width="0.3" textLength="51.5" lengthAdjust="spacingAndGlyphs">0.2795</text>
<rect x="1430" y="384" width="71" height="23.2" rx="1.5" fill="#a5d6a7"/>
<text x="1442.7" y="401.6" font-size="17.5" fill="#131722" stroke="#131722" stroke-width="0.3" textLength="51.5" lengthAdjust="spacingAndGlyphs">0.2714</text>
<rect x="1430" y="408.1" width="86.5" height="44.6" rx="1.5" fill="#111111"/>
<text x="1441.8" y="426.5" font-size="17.5" font-weight="bold" fill="#ffffff" textLength="52.4" lengthAdjust="spacingAndGlyphs">0.2713</text>
<text x="1441.8" y="446.5" font-size="17.5" fill="#c8c8c8" stroke="#c8c8c8" stroke-width="0.2" textLength="68.2" lengthAdjust="spacingAndGlyphs">03:30:09</text>
<rect x="1345.4" y="408.5" width="83.3" height="24.1" rx="1.5" fill="#111111"/>
<text x="1351" y="426.8" font-size="17.5" fill="#ffffff" stroke="#ffffff" stroke-width="0.5" textLength="71.6" lengthAdjust="spacingAndGlyphs">ADAUSDT</text>
<text x="23.6" y="59" font-size="14.7" fill="#131722" stroke="#131722" stroke-width="0.12" textLength="228.4" lengthAdjust="spacingAndGlyphs">Cardano / TetherUS · 4h · Binance</text>
<text x="262.4" y="59" font-size="14.7" fill="#131722" stroke="#131722" stroke-width="0.12" textLength="54.2" lengthAdjust="spacingAndGlyphs">O0.2714</text>
<text x="326.3" y="59" font-size="14.7" fill="#131722" stroke="#131722" stroke-width="0.12" textLength="54.2" lengthAdjust="spacingAndGlyphs">H0.2719</text>
<text x="389.9" y="59" font-size="14.7" fill="#131722" stroke="#131722" stroke-width="0.12" textLength="51.1" lengthAdjust="spacingAndGlyphs">L0.2709</text>
<text x="451.4" y="59" font-size="14.7" fill="#131722" stroke="#131722" stroke-width="0.12" textLength="53.2" lengthAdjust="spacingAndGlyphs">C0.2713</text>
<text x="515" y="59" font-size="14.7" fill="#131722" stroke="#131722" stroke-width="0.12" textLength="50" lengthAdjust="spacingAndGlyphs">−0.0001</text>
<text x="572.4" y="59" font-size="14.7" fill="#131722" stroke="#131722" stroke-width="0.12" textLength="55.3" lengthAdjust="spacingAndGlyphs">(−0.04%)</text>
<text x="23.6" y="79.7" font-size="14.7" fill="#131722" stroke="#131722" stroke-width="0.12" textLength="159.5" lengthAdjust="spacingAndGlyphs">Ichimoku (9, 26, 52, 26)</text>
<text x="193.1" y="79.7" font-size="14.7" fill="#8fcf92" stroke="#8fcf92" stroke-width="0.3" textLength="44.3" lengthAdjust="spacingAndGlyphs">0.2714</text>
<text x="246.8" y="79.7" font-size="14.7" fill="#ee9090" stroke="#ee9090" stroke-width="0.3" textLength="44.8" lengthAdjust="spacingAndGlyphs">0.2795</text>
<text x="79.5" y="827.4" font-size="17.5" fill="#131722" stroke="#131722" stroke-width="0.3" text-anchor="middle">3</text>
<text x="171.5" y="827.4" font-size="17.5" fill="#131722" stroke="#131722" stroke-width="0.3" text-anchor="middle">5</text>
<text x="264.5" y="827.4" font-size="17.5" fill="#131722" stroke="#131722" stroke-width="0.3" text-anchor="middle">7</text>
<text x="356.5" y="827.4" font-size="17.5" fill="#131722" stroke="#131722" stroke-width="0.3" text-anchor="middle">9</text>
<text x="449.5" y="827.4" font-size="17.5" fill="#131722" stroke="#131722" stroke-width="0.3" text-anchor="middle">11</text>
<text x="541.5" y="827.4" font-size="17.5" fill="#131722" stroke="#131722" stroke-width="0.3" text-anchor="middle">13</text>
<text x="634.5" y="827.4" font-size="17.5" fill="#131722" stroke="#131722" stroke-width="0.3" text-anchor="middle">15</text>
<text x="726.5" y="827.4" font-size="17.5" fill="#131722" stroke="#131722" stroke-width="0.3" text-anchor="middle">17</text>
<text x="819.5" y="827.4" font-size="17.5" fill="#131722" stroke="#131722" stroke-width="0.3" text-anchor="middle">19</text>
<text x="911.5" y="827.4" font-size="17.5" fill="#131722" stroke="#131722" stroke-width="0.3" text-anchor="middle">21</text>
<text x="1004.5" y="827.4" font-size="17.5" fill="#131722" stroke="#131722" stroke-width="0.3" text-anchor="middle">23</text>
<text x="1096.5" y="827.4" font-size="17.5" fill="#131722" stroke="#131722" stroke-width="0.3" text-anchor="middle">25</text>
<text x="1189.5" y="827.4" font-size="17.5" fill="#131722" stroke="#131722" stroke-width="0.3" text-anchor="middle">27</text>
<text x="1281.5" y="827.4" font-size="17.5" fill="#131722" stroke="#131722" stroke-width="0.8" textLength="28.9" lengthAdjust="spacingAndGlyphs" text-anchor="middle">Mar</text>
<text x="1373.5" y="827.4" font-size="17.5" fill="#131722" stroke="#131722" stroke-width="0.3" text-anchor="middle">3</text>
<circle cx="1011.4" cy="680.3" r="14" fill="#ffffff"/>
<circle cx="1011.4" cy="680.3" r="12.2" fill="#ffffff" stroke="#9c27b0" stroke-width="1.9"/>
<path d="M1014.7,674.2 L1006.8,680.5 L1011.5,680.3 L1008.1,686.6 L1016.2,680.1 L1011.8,680.2 Z" fill="#9c27b0" stroke="#9c27b0" stroke-width="0.8" stroke-linejoin="round"/>
<circle cx="1020.1" cy="671.8" r="4.6" fill="#ffffff"/>
<circle cx="1020.1" cy="671.8" r="3.1" fill="#f23645"/>
<path d="M15.4,868.6 L30.8,868.6 L30.8,886.8 L22.9,886.8 L22.9,875.1 L15.4,875.1 Z" fill="#131313"/>
<circle cx="36.5" cy="871.9" r="3.2" fill="#131313"/>
<path d="M41.3,868.6 L52.7,868.6 L44.4,886.8 L37,886.8 Z" fill="#131313"/>
<text x="61.9" y="886.8" font-size="25" font-weight="bold" fill="#131313" textLength="151" lengthAdjust="spacingAndGlyphs">TradingView</text>
</svg></body></html>
